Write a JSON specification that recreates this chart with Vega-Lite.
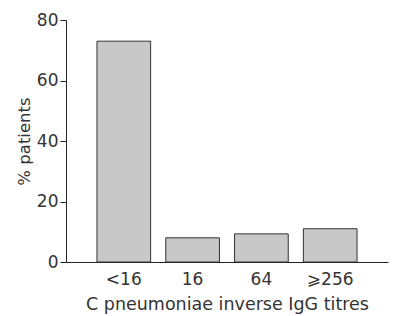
{
  "$schema": "https://vega.github.io/schema/vega-lite/v6.json",
  "width": 322,
  "height": 242,
  "autosize": {"type": "none"},
  "padding": {"left": 66, "top": 20, "right": 9, "bottom": 54},
  "background": "white",
  "config": {
    "view": {"stroke": null},
    "font": "DejaVu Sans",
    "axis": {"grid": false, "domainColor": "#222", "tickColor": "#222", "labelColor": "#333", "titleColor": "#333", "labelFont": "DejaVu Sans", "titleFont": "DejaVu Sans", "titleFontWeight": "normal"}
  },
  "data": {
    "values": [
      {"titre": "<16", "pct": 73},
      {"titre": "16", "pct": 8},
      {"titre": "64", "pct": 9.3},
      {"titre": "⩾256", "pct": 11}
    ]
  },
  "mark": {"type": "bar", "fill": "#c8c8c8", "stroke": "#333", "strokeWidth": 1},
  "encoding": {
    "x": {
      "field": "titre", "type": "nominal", "sort": null,
      "scale": {"paddingInner": 0.22, "paddingOuter": 0.45},
      "axis": {"title": "C pneumoniae inverse IgG titres", "labelAngle": 0, "ticks": false, "labelPadding": 9, "labelFontSize": 17, "titleFontSize": 17.5, "titlePadding": 8}
    },
    "y": {
      "field": "pct", "type": "quantitative",
      "scale": {"domain": [0, 80], "nice": false},
      "axis": {"title": "% patients", "values": [0, 20, 40, 60, 80], "tickSize": 6, "labelPadding": 2, "labelFontSize": 17, "titleFontSize": 16.5, "titlePadding": 4}
    }
  }
}
